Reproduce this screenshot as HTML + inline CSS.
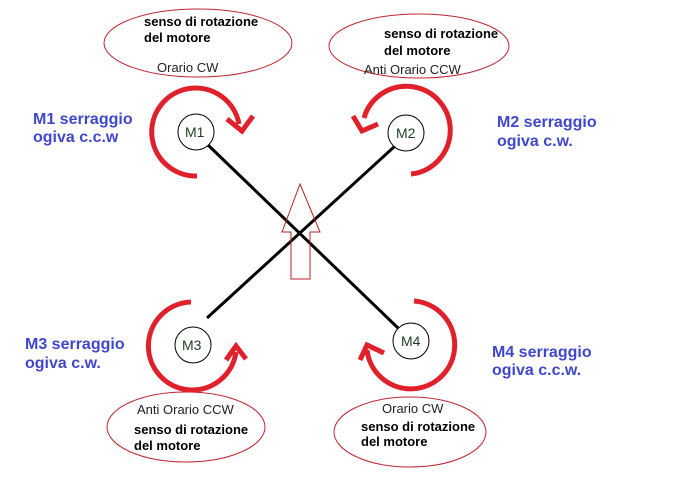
<!DOCTYPE html>
<html><head><meta charset="utf-8"><style>
html,body{margin:0;padding:0;background:#fff;}
svg{display:block;}
.b{font-family:"Liberation Sans",sans-serif;font-weight:bold;font-size:13px;fill:#000;}
.n{font-family:"Liberation Sans",sans-serif;font-size:13px;fill:#222;}
.l{font-family:"Liberation Sans",sans-serif;font-weight:bold;font-size:16px;fill:#3f48cc;}
.m{font-family:"Liberation Sans",sans-serif;font-size:14px;fill:#1f3f1f;}
</style></head><body>
<svg width="682" height="493" viewBox="0 0 682 493" xmlns="http://www.w3.org/2000/svg">
<rect width="682" height="493" fill="#fff"/>
<g fill="none" stroke="#c0262e" stroke-width="1">
<ellipse cx="198" cy="43" rx="94" ry="34"/>
<ellipse cx="419" cy="46" rx="90" ry="32"/>
<ellipse cx="186" cy="427" rx="79" ry="35"/>
<ellipse cx="410" cy="432" rx="76" ry="35"/>
</g>
<text class="b" x="144" y="26">senso di rotazione</text>
<text class="b" x="144" y="42">del motore</text>
<text class="n" x="157" y="72">Orario CW</text>
<text class="b" x="384" y="38">senso di rotazione</text>
<text class="b" x="384" y="55">del motore</text>
<text class="n" x="364" y="74">Anti Orario CCW</text>
<text class="n" x="137" y="414">Anti Orario CCW</text>
<text class="b" x="134" y="434">senso di rotazione</text>
<text class="b" x="134" y="450">del motore</text>
<text class="n" x="382" y="413">Orario CW</text>
<text class="b" x="361" y="431">senso di rotazione</text>
<text class="b" x="361" y="446">del motore</text>
<g stroke="#000" stroke-width="3">
<line x1="208" y1="145" x2="398" y2="328"/>
<line x1="395" y1="146" x2="207" y2="318"/>
</g>
<polygon points="300,184 282,232 291,232 291,279 310,279 310,232 320,232" fill="none" stroke="#b22222" stroke-width="1"/>
<g fill="none" stroke="#e0202a" stroke-width="5" stroke-linecap="butt">
<path d="M197 176 A44 44 0 1 1 239 124"/>
<polyline points="227,119 242,131 253,116"/>
<path d="M411 174 A44 44 0 1 0 364 118"/>
<polyline points="353,116 362,131 378,124"/>
<path d="M191 302 A44 44 0 1 0 236 352"/>
<polyline points="226,360 236,346 246,359"/>
<path d="M414 301 A44 44 0 1 1 367 350"/>
<polyline points="360,360 367,345 384,353"/>
</g>
<g fill="#fff" stroke="#000" stroke-width="1">
<circle cx="196" cy="132" r="18"/>
<circle cx="406" cy="133" r="18"/>
<circle cx="193" cy="345" r="18"/>
<circle cx="411" cy="341" r="18"/>
</g>
<text class="m" x="185" y="137">M1</text>
<text class="m" x="396" y="138">M2</text>
<text class="m" x="182" y="350">M3</text>
<text class="m" x="401" y="346">M4</text>
<text class="l" x="33" y="124">M1 serraggio</text>
<text class="l" x="33" y="142">ogiva c.c.w</text>
<text class="l" x="497" y="127">M2 serraggio</text>
<text class="l" x="497" y="146">ogiva c.w.</text>
<text class="l" x="25" y="349">M3 serraggio</text>
<text class="l" x="25" y="368">ogiva c.w.</text>
<text class="l" x="492" y="357">M4 serraggio</text>
<text class="l" x="492" y="375">ogiva c.c.w.</text>
</svg>
</body></html>
